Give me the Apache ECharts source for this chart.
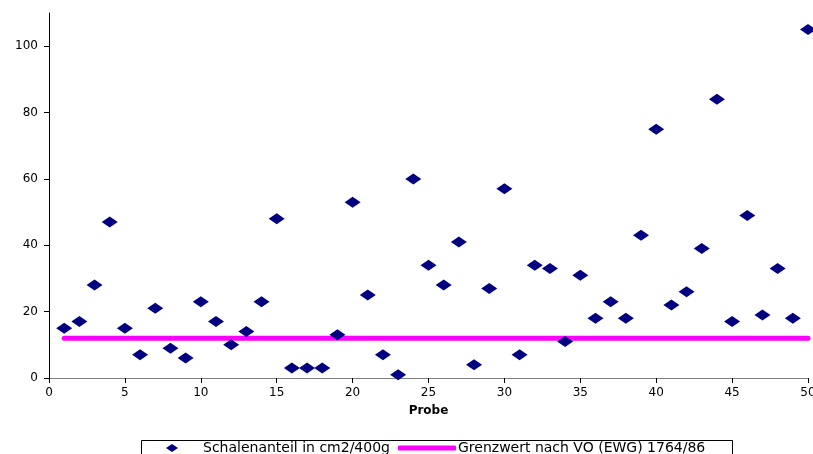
<!DOCTYPE html>
<html>
<head>
<meta charset="utf-8">
<script src="https://cdn.jsdelivr.net/npm/echarts@6/dist/echarts.min.js"></script>
<style>
  html, body { margin: 0; padding: 0; background: #fff; }
  #chart { width: 813px; height: 454px; }
</style>
</head>
<body>
<div id="chart"></div>
<script>
const probeNumbers = [
  1, 2, 3, 4, 5, 6, 7, 8, 9, 10,
  11, 12, 13, 14, 15, 16, 17, 18, 19, 20,
  21, 22, 23, 24, 25, 26, 27, 28, 29, 30,
  31, 32, 33, 34, 35, 36, 37, 38, 39, 40,
  41, 42, 43, 44, 45, 46, 47, 48, 49, 50,
];
const schalenanteil = [
  15, 17, 28, 47, 15, 7, 21, 9, 6, 23,
  17, 10, 14, 23, 48, 3, 3, 3, 13, 53,
  25, 7, 1, 60, 34, 28, 41, 4, 27, 57,
  7, 34, 33, 11, 31, 18, 23, 18, 43, 75,
  22, 26, 39, 84, 17, 49, 19, 33, 18, 105,
];
const grenzwertX = [1, 50];
const grenzwertY = [12, 12];
const yTickValues = [0, 20, 40, 60, 80, 100];

const seriesNames = ["Schalenanteil in cm2/400g", "Grenzwert nach VO (EWG) 1764/86"];

const chart = echarts.init(document.getElementById("chart"));

const font = "DejaVu Sans";
const legendText = { fontFamily: font, fontSize: 14, color: "#000" };

chart.setOption({
  animation: false,
  textStyle: { fontFamily: font },
  grid: { left: 49, right: 5, top: 13, bottom: 76, containLabel: false, outerBoundsMode: "none" },
  // legend frame (runs off the bottom edge like the original)
  graphic: [
    {
      type: "rect",
      left: 139,
      top: 438,
      shape: { width: 591, height: 30 },
      style: { fill: "none", stroke: "#000", lineWidth: 1 },
      silent: true,
    },
  ],
  legend: [
    {
      left: 166,
      top: 441,
      padding: 0,
      itemWidth: 12,
      itemHeight: 8,
      textStyle: Object.assign({ padding: [0, 0, 0, 20] }, legendText),
      data: [{ name: seriesNames[0], icon: "diamond" }],
    },
    {
      left: 398,
      top: 441,
      padding: 0,
      itemWidth: 58,
      itemHeight: 5,
      textStyle: Object.assign({ padding: [0, 0, 0, -3] }, legendText),
      data: [{ name: seriesNames[1], icon: "roundRect" }],
    },
  ],
  xAxis: {
    type: "value",
    min: 0,
    max: 50,
    interval: 5,
    name: "Probe",
    nameLocation: "middle",
    nameGap: 27,
    nameTextStyle: { fontFamily: font, fontSize: 12, fontWeight: "bold", color: "#000" },
    axisLine: { show: true, onZero: false, lineStyle: { color: "#808080", width: 1 } },
    axisTick: { show: true, length: 5, lineStyle: { color: "#000" } },
    axisLabel: { margin: 9, fontSize: 12, color: "#000", fontFamily: font },
    splitLine: { show: false },
  },
  yAxis: {
    type: "value",
    min: 0,
    max: 110,
    interval: 20,
    axisLine: { show: true, onZero: false, lineStyle: { color: "#000", width: 1 } },
    axisTick: { show: true, length: 5, customValues: yTickValues, lineStyle: { color: "#000" } },
    axisLabel: { margin: 11, fontSize: 12, color: "#000", fontFamily: font, customValues: yTickValues },
    splitLine: { show: false },
  },
  series: [
    {
      name: seriesNames[1],
      type: "line",
      data: grenzwertX.map((x, i) => [x, grenzwertY[i]]),
      showSymbol: false,
      symbol: "none",
      color: "#ff00ff",
      lineStyle: { color: "#ff00ff", width: 5, cap: "round" },
      z: 1,
    },
    {
      name: seriesNames[0],
      type: "scatter",
      data: probeNumbers.map((x, i) => [x, schalenanteil[i]]),
      symbol: "diamond",
      symbolSize: [16, 11],
      clip: false,
      itemStyle: { color: "#000080", opacity: 1 },
      z: 3,
    },
  ],
});
</script>
</body>
</html>
